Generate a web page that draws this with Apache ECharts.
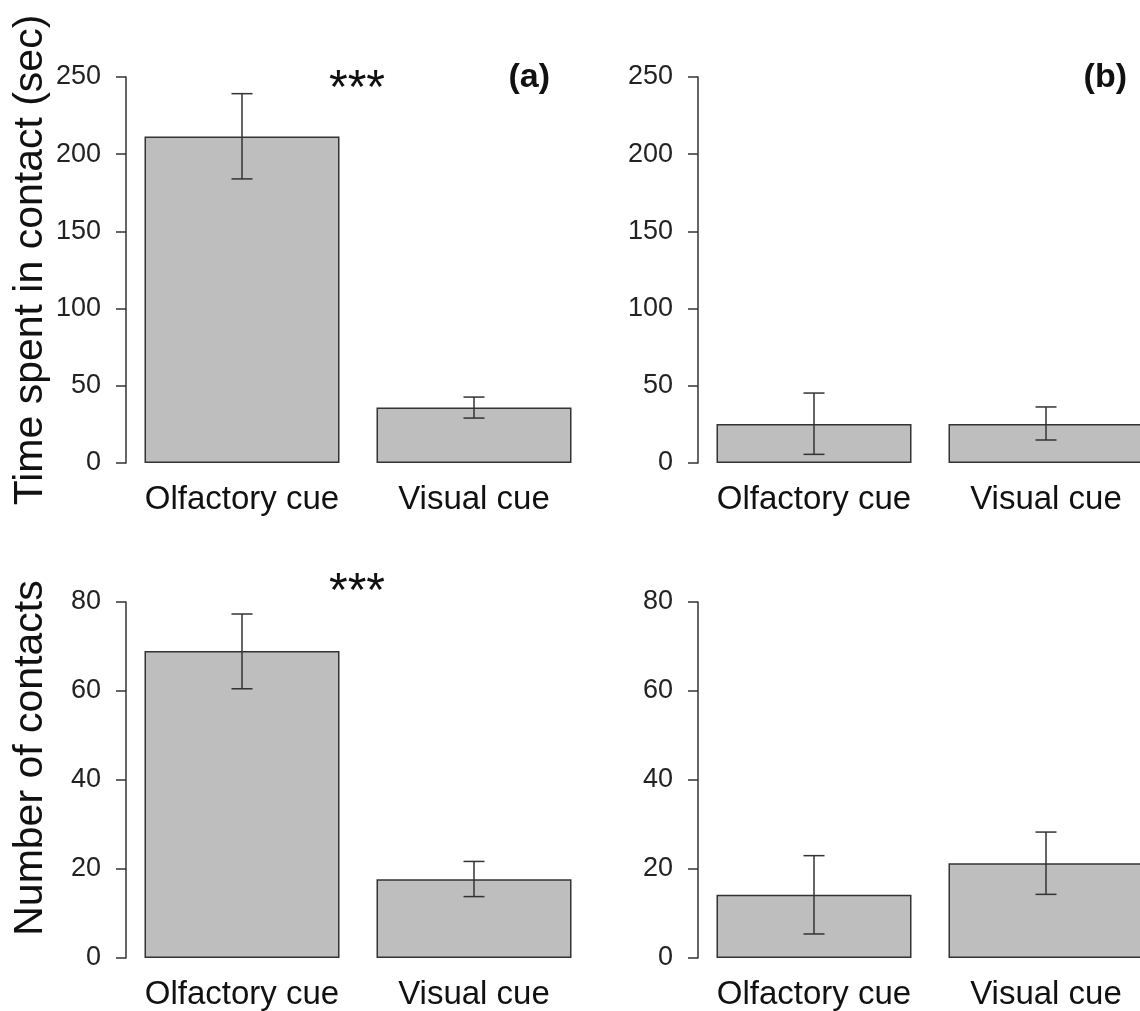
<!DOCTYPE html>
<html>
<head>
<meta charset="utf-8">
<script src="https://cdn.jsdelivr.net/npm/echarts@6/dist/echarts.min.js"></script>
<style>
html,body{margin:0;padding:0;background:#fff;overflow:hidden;}
#chart{width:1166px;height:1011px;}
</style>
</head>
<body>
<div id="chart"></div>
<script>
// ---- data ----
const categories = ['Olfactory cue', 'Visual cue'];
const timeTicks = [0, 50, 100, 150, 200, 250];
const countTicks = [0, 20, 40, 60, 80];

const timeMeanA = [211.5, 36.0];
const timeLowA = [184.0, 29.1];
const timeHighA = [239.2, 42.7];

const timeMeanB = [25.3, 25.3];
const timeLowB = [5.6, 14.9];
const timeHighB = [45.3, 36.3];

const countMeanA = [69.0, 17.7];
const countLowA = [60.5, 13.8];
const countHighA = [77.3, 21.7];

const countMeanB = [14.2, 21.3];
const countLowB = [5.4, 14.3];
const countHighB = [23.0, 28.3];

const panelLetters = ['(a)', '(b)'];
const sigMark = '***';
const yTitles = ['Time spent in contact (sec)', 'Number of contacts'];

// ---- styles ----
const FONT = 'Liberation Sans';
const AX = '#333';
const grids = [
  {left: 126, top: 77, width: 464, height: 386},
  {left: 698, top: 77, width: 464, height: 386},
  {left: 126, top: 602, width: 464, height: 357},
  {left: 698, top: 602, width: 464, height: 357}
];

function xAxisFor(i) {
  return {
    type: 'category', gridIndex: i, data: categories,
    axisLine: {show: false}, axisTick: {show: false},
    axisLabel: {fontFamily: FONT, fontSize: 33, color: '#111', margin: 20, interval: 0, hideOverlap: false}
  };
}
function yAxisFor(i, ticks) {
  return {
    type: 'value', gridIndex: i,
    min: ticks[0], max: ticks[ticks.length - 1], interval: ticks[1] - ticks[0],
    axisLine: {show: true, lineStyle: {color: AX, width: 1.5}},
    axisTick: {show: true, length: 10, lineStyle: {color: AX, width: 1.5}},
    splitLine: {show: false},
    axisLabel: {fontFamily: FONT, fontSize: 27, color: '#222', margin: 25, padding: [5, 0, 0, 0]}
  };
}
function barSeries(i, means) {
  return {
    type: 'bar', xAxisIndex: i, yAxisIndex: i, data: means,
    barWidth: 195, silent: true,
    itemStyle: {color: '#BEBEBE', borderColor: '#333', borderWidth: 1.5}
  };
}
function errSeries(i, lows, highs) {
  return {
    type: 'custom', xAxisIndex: i, yAxisIndex: i, silent: true, z: 5,
    data: categories.map((c, k) => [k, lows[k], highs[k]]),
    encode: {x: 0, y: [1, 2]},
    renderItem: function (params, api) {
      const lo = api.coord([api.value(0), api.value(1)]);
      const hi = api.coord([api.value(0), api.value(2)]);
      const hw = 10.5;
      const st = {stroke: '#333', lineWidth: 1.5};
      return {
        type: 'group',
        children: [
          {type: 'line', shape: {x1: lo[0], y1: lo[1], x2: hi[0], y2: hi[1]}, style: st},
          {type: 'line', shape: {x1: hi[0] - hw, y1: hi[1], x2: hi[0] + hw, y2: hi[1]}, style: st},
          {type: 'line', shape: {x1: lo[0] - hw, y1: lo[1], x2: lo[0] + hw, y2: lo[1]}, style: st}
        ]
      };
    }
  };
}

const option = {
  backgroundColor: '#fff',
  animation: false,
  grid: grids,
  xAxis: [xAxisFor(0), xAxisFor(1), xAxisFor(2), xAxisFor(3)],
  yAxis: [yAxisFor(0, timeTicks), yAxisFor(1, timeTicks), yAxisFor(2, countTicks), yAxisFor(3, countTicks)],
  series: [
    barSeries(0, timeMeanA), errSeries(0, timeLowA, timeHighA),
    barSeries(1, timeMeanB), errSeries(1, timeLowB, timeHighB),
    barSeries(2, countMeanA), errSeries(2, countLowA, countHighA),
    barSeries(3, countMeanB), errSeries(3, countLowB, countHighB)
  ],
  graphic: [
    {type: 'text', x: 31, y: 260, rotation: Math.PI / 2,
     style: {text: yTitles[0], font: '41px "' + FONT + '"', fill: '#111', textAlign: 'center', textVerticalAlign: 'middle'}},
    {type: 'text', x: 31, y: 758, rotation: Math.PI / 2,
     style: {text: yTitles[1], font: '41px "' + FONT + '"', fill: '#111', textAlign: 'center', textVerticalAlign: 'middle'}},
    {type: 'text', x: 357, y: 90,
     style: {text: sigMark, font: '48px "' + FONT + '"', fill: '#111', textAlign: 'center', textVerticalAlign: 'middle'}},
    {type: 'text', x: 357, y: 593,
     style: {text: sigMark, font: '48px "' + FONT + '"', fill: '#111', textAlign: 'center', textVerticalAlign: 'middle'}},
    {type: 'text', x: 550, y: 78,
     style: {text: panelLetters[0], font: 'bold 34px "' + FONT + '"', fill: '#111', textAlign: 'right', textVerticalAlign: 'middle'}},
    {type: 'text', x: 1127, y: 78,
     style: {text: panelLetters[1], font: 'bold 34px "' + FONT + '"', fill: '#111', textAlign: 'right', textVerticalAlign: 'middle'}}
  ]
};

const chart = echarts.init(document.getElementById('chart'), null, {renderer: 'canvas'});
chart.setOption(option);
</script>
</body>
</html>
